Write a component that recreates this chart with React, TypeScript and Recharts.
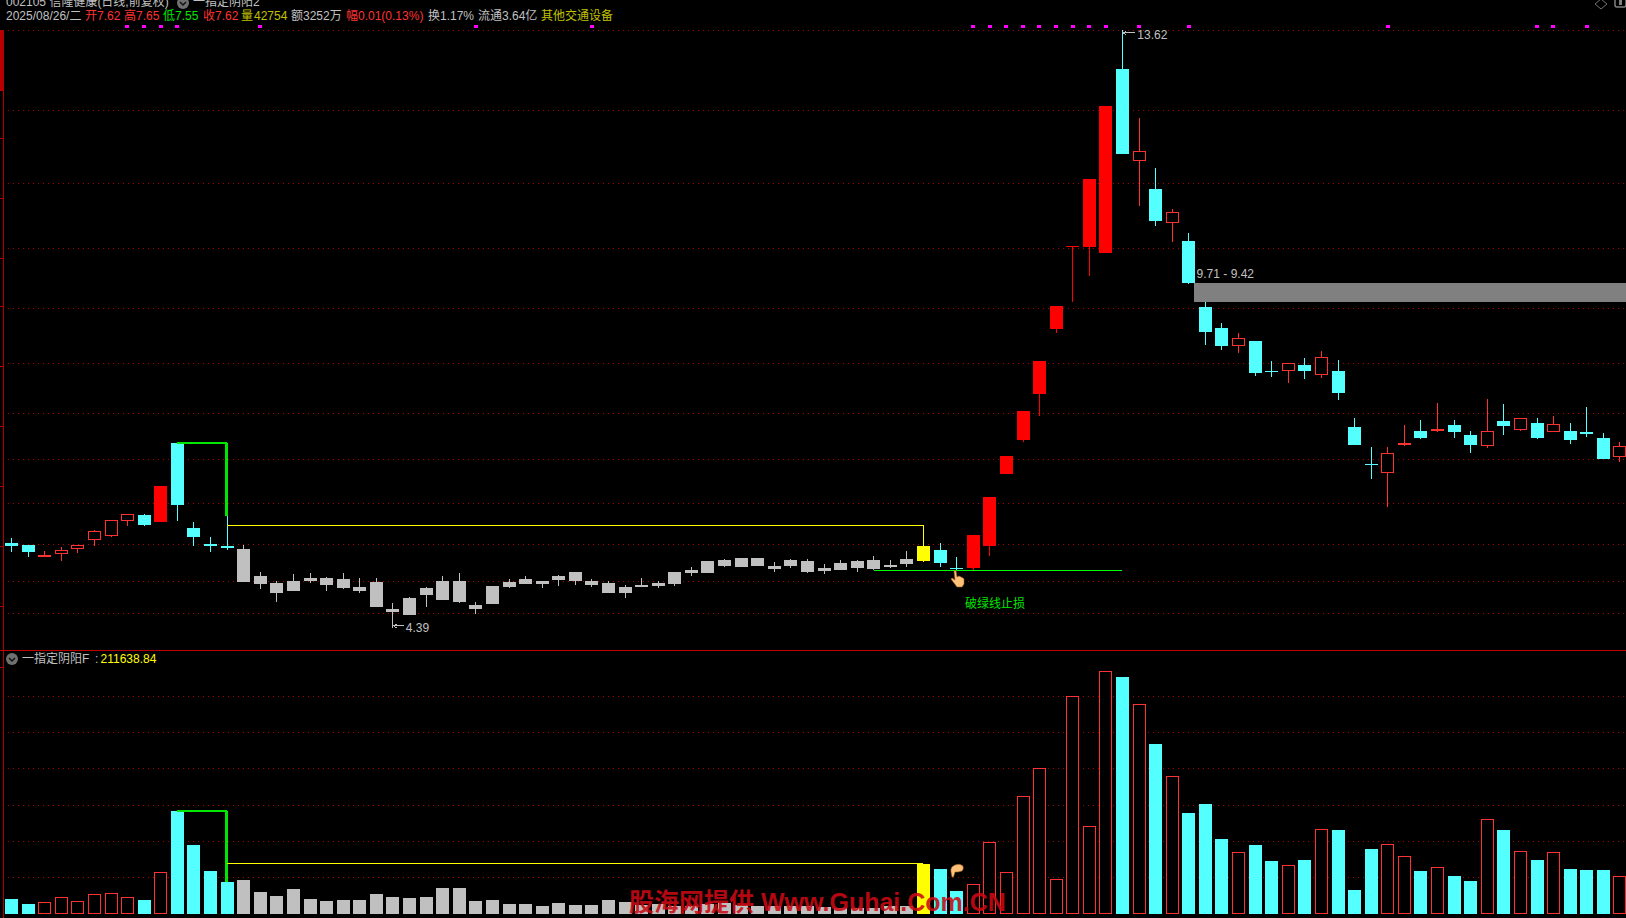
import React from "react";
import { ComposedChart, Bar, Line, XAxis, YAxis, CartesianGrid, ReferenceLine, ReferenceArea, ReferenceDot } from "recharts";

// --- candle data (prices) ---
const kinds = ("ccrrrrrrcR" + "cccc" + "g".repeat(41) + "y" + "cc" + "RRRRRRRRR" + "crcrcccrccrcrcccrrcrccrcrcrcccr").split("");
const highs = [
  5.78,5.67,5.58,5.64,5.67,5.90,6.06,6.15,6.15,6.58,
  7.25,6.03,5.79,6.12,5.67,5.25,5.12,5.22,5.24,5.18,
  5.24,5.16,5.16,4.78,4.87,5.02,5.19,5.24,4.79,5.04,
  5.15,5.19,5.12,5.21,5.25,5.15,5.12,5.05,5.16,5.12,
  5.25,5.33,5.42,5.46,5.47,5.47,5.41,5.46,5.46,5.38,
  5.44,5.44,5.50,5.44,5.58,5.66,5.70,5.49,5.83,6.41,
  7.04,7.74,8.51,9.36,10.29,11.32,12.45,13.62,12.26,11.49,
  10.86,10.49,9.42,9.10,8.94,8.82,8.51,8.48,8.56,8.67,
  8.53,7.63,7.18,7.18,7.52,7.60,7.86,7.60,7.43,7.92,
  7.85,7.63,7.63,7.66,7.55,7.80,7.40,7.26,
];
const bodyTops = [
  5.70,5.67,5.52,5.59,5.67,5.89,6.06,6.15,6.13,6.58,
  7.25,5.93,5.69,5.66,5.61,5.19,5.08,5.12,5.16,5.16,
  5.15,5.02,5.10,4.68,4.85,5.01,5.12,5.12,4.75,5.04,
  5.10,5.15,5.12,5.19,5.25,5.12,5.08,5.02,5.05,5.08,
  5.25,5.29,5.42,5.44,5.47,5.47,5.35,5.44,5.42,5.32,
  5.39,5.42,5.44,5.36,5.46,5.66,5.59,5.32,5.83,6.41,
  7.04,7.74,8.51,9.36,10.29,11.32,12.45,13.02,11.75,11.17,
  10.81,10.36,9.34,9.02,8.87,8.82,8.36,8.48,8.45,8.57,
  8.36,7.49,6.92,7.09,7.25,7.43,7.46,7.52,7.37,7.43,
  7.59,7.63,7.55,7.54,7.43,7.42,7.32,7.20,
];
const bodyBottoms = [
  5.66,5.56,5.49,5.53,5.61,5.75,5.81,6.04,5.98,6.03,
  6.29,5.79,5.66,5.63,5.10,5.07,4.93,4.96,5.12,5.05,
  5.01,4.96,4.71,4.64,4.59,4.90,4.82,4.79,4.68,4.76,
  5.02,5.07,5.07,5.13,5.12,5.05,4.93,4.93,5.02,5.04,
  5.07,5.24,5.24,5.35,5.33,5.35,5.30,5.35,5.25,5.27,
  5.29,5.32,5.30,5.33,5.38,5.42,5.39,5.30,5.32,5.66,
  6.77,7.29,8.00,9.00,10.27,10.27,10.18,11.71,11.60,10.67,
  10.64,9.71,8.96,8.74,8.74,8.33,8.34,8.36,8.36,8.30,
  8.02,7.21,6.91,6.78,7.21,7.32,7.43,7.42,7.21,7.20,
  7.51,7.45,7.32,7.42,7.29,7.38,7.00,7.03,
];
const lows = [
  5.56,5.49,5.49,5.42,5.55,5.66,5.79,5.96,5.96,6.03,
  6.04,5.66,5.56,5.59,5.10,4.98,4.79,4.95,5.08,4.96,
  4.99,4.93,4.71,4.39,4.59,4.71,4.82,4.78,4.61,4.76,
  5.01,5.07,5.01,5.04,5.05,5.02,4.93,4.85,5.02,5.01,
  5.04,5.19,5.24,5.33,5.33,5.35,5.25,5.32,5.24,5.22,
  5.29,5.25,5.29,5.32,5.33,5.41,5.33,5.29,5.29,5.50,
  6.77,7.26,7.66,8.94,9.42,9.82,10.18,11.71,10.90,10.60,
  10.35,9.71,8.76,8.68,8.63,8.28,8.26,8.17,8.23,8.25,
  7.92,7.21,6.69,6.26,7.20,7.31,7.42,7.32,7.09,7.17,
  7.37,7.43,7.31,7.42,7.23,7.34,7.00,6.95,
];
// --- indicator pane values ---
const volumes = [
  14.7,9.7,12.3,17.3,13.3,20.3,21.3,17.3,13.7,42.3,
  102.7,68.7,42.7,31.7,33.7,21.7,17.7,24.7,14.7,12.7,
  13.7,13.7,19.7,16.7,15.7,16.7,25.7,25.7,12.7,13.7,
  9.7,9.7,7.7,10.7,8.7,8.7,13.7,11.7,9,10,
  8,8,10,11,9,8,8,8,8,7,
  6,6,6,8,8,50.3,44.7,22.7,30.3,72.3,
  42.3,118.3,146.3,35.3,218.3,88.3,243.3,236.7,210.3,169.7,
  138.3,100.7,109.7,74.7,62.3,68.7,52.7,49.3,53.7,85.3,
  83.7,23.7,64.7,70.3,58.3,42.7,47.3,37.7,32.7,95.3,
  83.7,63.3,53.7,62.3,44.7,43.7,43.7,38.3,
];
const markerIndexes = [7,8,9,10,15,28,35,58,59,60,61,62,63,64,65,66,68,71,83,92,93,95];
const markerPrice = 13.67;
const priceGrid = [13.61,12.385,11.258,10.24,9.314,8.465,7.708,6.998,6.304,5.686,5.115,4.606];
const volumeGrid = [217.4,181.4,145.4,108.4,72.4,36.4];
const priceDomain = [4.05, 14.083];
const volumeDomain = [0, 264];
const leftTicks = [138,198,258,306,366,426,486,546,606,667];

const rows = kinds.map((kind, i) => ({
  i, kind,
  high: highs[i], low: lows[i], bodyTop: bodyTops[i], bodyBottom: bodyBottoms[i],
  range: [lows[i], highs[i]],
  volume: volumes[i],
  marker: markerIndexes.includes(i) ? markerPrice : null,
}));

const COL: any = { c: "#54ffff", r: "#ff3232", R: "#ff0000", g: "#c0c0c0", y: "#ffff00" };
const UI = '"Liberation Sans","Noto Sans CJK SC",sans-serif';
const BW = 13;
const GRID = "#b00000";

const Candle = (p: any) => {
  const { x, y, width, height, payload: d } = p;
  const k = height / (d.high - d.low);
  const yt = Math.round(y + (d.high - d.bodyTop) * k);
  const yb = Math.round(y + (d.high - d.bodyBottom) * k);
  const bx = Math.round(x + width / 2 - BW / 2);
  const cx = bx + 6;
  const c = COL[d.kind];
  const h = Math.max(1, yb - yt);
  return (
    <g>
      <rect x={cx} y={Math.round(y)} width={1} height={Math.max(1, Math.round(height))} fill={c} />
      {d.kind === "r" && h > 3
        ? <rect x={bx + 0.5} y={yt + 0.5} width={BW - 1} height={h - 1} fill="#000" stroke={c} strokeWidth={1} />
        : <rect x={bx} y={yt} width={BW} height={h} fill={c} />}
    </g>
  );
};

const VolBar = (p: any) => {
  const { x, y, width, height, payload: d } = p;
  const bx = Math.round(x + width / 2 - BW / 2);
  const t = Math.round(y);
  const b = Math.round(y + height);
  const hollow = d.kind === "r" || d.kind === "R";
  return hollow
    ? <rect x={bx + 0.5} y={t + 0.5} width={BW - 1} height={b - t - 1} fill="#000" stroke="#ff3232" strokeWidth={1} />
    : <rect x={bx} y={t} width={BW} height={b - t} fill={COL[d.kind]} />;
};

const MarkerDot = (p: any) => {
  if (p.payload.marker == null) return <g key={p.key} />;
  return <rect key={p.key} x={Math.round(p.cx) - 2} y={Math.round(p.cy) - 2} width={4} height={3} fill="#ff00ff" />;
};

const PriceTag = (dx: number, dy: number, text: string, arrow: boolean) => (p: any) => (
  <g>
    {arrow && <path d={`M${p.cx} ${p.cy + dy - 2}H${p.cx + dx - 2}M${p.cx + 1} ${p.cy + dy - 2}l3 -2M${p.cx + 1} ${p.cy + dy - 2}l3 2`} stroke="#c0c0c0" fill="none" />}
    <text x={p.cx + dx} y={p.cy + dy + 4} fontSize={12} fontFamily={UI} fill="#c0c0c0">{text}</text>
  </g>
);

const Seg = ({ x, top, text, color }: any) => (
  <span style={{ position: "absolute", left: x, top, fontSize: 12, lineHeight: "14px", color, whiteSpace: "nowrap", fontFamily: UI }}>{text}</span>
);

const headerItems: [number, string, string][] = [
  [6, "2025/08/26/二", "#c0c0c0"], [85, "开7.62", "#ff3232"], [124, "高7.65", "#ff3232"], [163, "低7.55", "#00e600"],
  [203, "收7.62", "#ff3232"], [241, "量", "#c0c000"], [254, "42754", "#c0c000"], [291, "额3252万", "#c0c0c0"],
  [346, "幅0.01(0.13%)", "#ff3232"], [428, "换1.17%", "#c0c0c0"], [478, "流通3.64亿", "#c0c0c0"], [541, "其他交通设备", "#c0c000"],
];

const Chevron = ({ cx, cy }: any) => (
  <g>
    <circle cx={cx} cy={cy} r={6} fill="#707070" />
    <path d={`M${cx - 3} ${cy - 1}l3 3l3 -3`} stroke="#111" strokeWidth={1.5} fill="none" />
  </g>
);

export default function App() {
  return (
    <div style={{ position: "absolute", left: 0, top: 0, width: 1626, height: 918, background: "#000", overflow: "hidden", shapeRendering: "crispEdges" as any }}>
      <div style={{ position: "absolute", left: 0, top: 0 }}>
        <ComposedChart width={1628} height={650} data={rows} margin={{ top: 0, right: 0, bottom: 0, left: 3.11 }}>
          <XAxis type="number" dataKey="i" domain={[-0.5, 97.5]} hide allowDataOverflow />
          <YAxis type="number" domain={priceDomain} hide allowDataOverflow />
          <CartesianGrid vertical={false} horizontalValues={priceGrid} stroke={GRID} strokeDasharray="1 4" />
          <Bar dataKey="range" barSize={BW} isAnimationActive={false} shape={Candle} />
          <Line dataKey="marker" stroke="none" dot={MarkerDot} activeDot={false} isAnimationActive={false} connectNulls={false} />
          <ReferenceArea x1={71.33} x2={97.5} y1={9.42} y2={9.71} fill="#808080" fillOpacity={1} stroke="none" />
          <ReferenceLine segment={[{ x: 10, y: 7.25 }, { x: 13, y: 7.25 }]} stroke="#00e600" strokeWidth={2} />
          <ReferenceLine segment={[{ x: 13, y: 7.25 }, { x: 13, y: 6.12 }]} stroke="#00e600" strokeWidth={3} />
          <ReferenceLine segment={[{ x: 13, y: 5.972 }, { x: 55, y: 5.972 }]} stroke="#ffff00" strokeWidth={1} />
          <ReferenceLine segment={[{ x: 55, y: 5.972 }, { x: 55, y: 5.66 }]} stroke="#ffff00" strokeWidth={1} />
          <ReferenceLine segment={[{ x: 52, y: 5.272 }, { x: 67, y: 5.272 }]} stroke="#00ff00" strokeWidth={1} />
          <ReferenceDot x={67} y={13.62} r={0} shape={PriceTag(15, 5, "13.62", true)} />
          <ReferenceDot x={23} y={4.39} r={0} shape={PriceTag(13, 0, "4.39", true)} />
          <ReferenceDot x={71} y={9.71} r={0} shape={PriceTag(8, -9, "9.71 - 9.42", false)} />
        </ComposedChart>
      </div>
      <div style={{ position: "absolute", left: 0, top: 650 }}>
        <ComposedChart width={1628} height={264} data={rows} margin={{ top: 0, right: 0, bottom: 0, left: 3.11 }}>
          <XAxis type="number" dataKey="i" domain={[-0.5, 97.5]} hide allowDataOverflow />
          <YAxis type="number" domain={volumeDomain} hide allowDataOverflow />
          <CartesianGrid vertical={false} horizontalValues={volumeGrid} stroke={GRID} strokeDasharray="1 4" />
          <Bar dataKey="volume" barSize={BW} isAnimationActive={false} shape={VolBar} />
          <ReferenceLine segment={[{ x: 10, y: 102.7 }, { x: 13, y: 102.7 }]} stroke="#00e600" strokeWidth={2} />
          <ReferenceLine segment={[{ x: 13, y: 102.7 }, { x: 13, y: 31.7 }]} stroke="#00e600" strokeWidth={3} />
          <ReferenceLine segment={[{ x: 13, y: 50.3 }, { x: 55, y: 50.3 }]} stroke="#ffff00" strokeWidth={1} />
        </ComposedChart>
      </div>

      {/* frame, icons */}
      <svg width={1626} height={918} style={{ position: "absolute", left: 0, top: 0, pointerEvents: "none" }}>
        <rect x={3} y={30} width={1} height={888} fill="#b00000" />
        <rect x={0} y={30} width={3} height={61} fill="#b80000" />
        {leftTicks.map((t) => <rect key={t} x={0} y={t} width={3} height={1} fill="#b00000" />)}
        <rect x={0} y={650} width={1626} height={1} fill="#c00000" />
        <g style={{ shapeRendering: "auto" }}>
          <Chevron cx={183} cy={3} />
          <Chevron cx={12} cy={659} />
          <path d="M1601 -1l6 5l-6 5l-6 -5z" stroke="#707070" fill="none" />
          <path d="M1615 -2v7q0 2 2 2h7q2 0 2 -2v-7" stroke="#808080" fill="none" strokeWidth={1.5} />
          <rect x={1619} y={0} width={3} height={5} fill="#808080" />
          <path d="M954 571q1.500 -1 2 0l1 6l2 -1l2 1l2 1l1 1v5l-2 3h-5l-3 -4l-3 -4l1 -1l3 2z" fill="#ffc078" stroke="#a06020" strokeWidth={0.6} />
          <path d="M951 872q-1 -5 4 -7q5 -2 8 1q1 3 -1 5l-4 1l-3 0l-1.500 5l-1.500 0z" fill="#ffc078" stroke="#a06020" strokeWidth={0.6} />
        </g>
      </svg>

      {/* header texts */}
      <Seg x={6} top={-5} text="002105 信隆健康(日线,前复权)" color="#c0c0c0" />
      <Seg x={193} top={-5} text="一指定阴阳2" color="#c0c0c0" />
      {headerItems.map(([x, t, c]) => <Seg key={x} x={x} top={9} text={t} color={c} />)}
      <Seg x={22} top={652} text="一指定阴阳F" color="#c0c0c0" />
      <Seg x={95} top={652} text=":" color="#c0c0c0" />
      <Seg x={100.5} top={652} text="211638.84" color="#ffff00" />
      <Seg x={965} top={597} text="破绿线止损" color="#00e600" />
      <span style={{ position: "absolute", left: 629, top: 887, fontSize: 25, lineHeight: "30px", fontWeight: 700, color: "#cc0a14", opacity: 0.88, whiteSpace: "pre", fontFamily: UI }}>股海网提供 Www.Guhai.Com.CN</span>
    </div>
  );
}
